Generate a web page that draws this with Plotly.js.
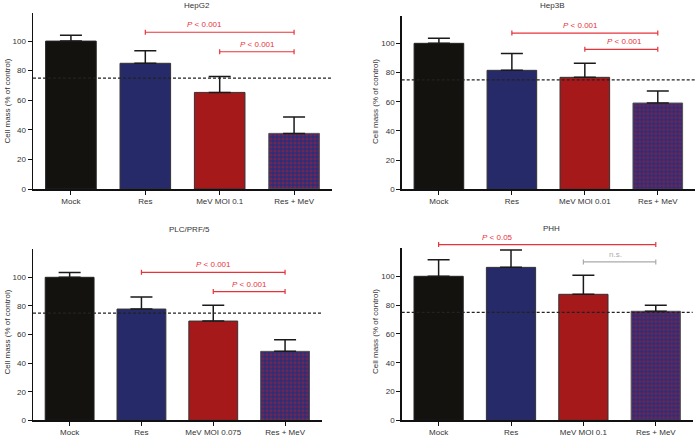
<!DOCTYPE html>
<html><head><meta charset="utf-8">
<script src="https://cdn.plot.ly/plotly-3.0.1.min.js"></script>
<style>html,body{margin:0;padding:0;background:#fff}#chart{width:700px;height:437px}</style>
</head><body><div id="chart"></div>
<script>
// ---------- data ----------
const hepg2Categories = ['Mock', 'Res', 'MeV MOI 0.1', 'Res + MeV'];
const hep3bCategories = ['Mock', 'Res', 'MeV MOI 0.01', 'Res + MeV'];
const plcCategories   = ['Mock', 'Res', 'MeV MOI 0.075', 'Res + MeV'];
const phhCategories   = ['Mock', 'Res', 'MeV MOI 0.1', 'Res + MeV'];
const panelTitles = ['HepG2', 'Hep3B', 'PLC/PRF/5', 'PHH'];

const hepg2Values = [100, 85.0, 65.3, 37.6];
const hepg2Errors = [4.0, 8.5, 10.7, 11.0];
const hep3bValues = [100, 81.5, 76.7, 59.1];
const hep3bErrors = [3.5, 11.6, 9.6, 8.2];
const plcValues   = [100, 77.8, 69.4, 48.2];
const plcErrors   = [3.3, 8.4, 11.0, 8.2];
const phhValues   = [100, 106.2, 87.5, 75.7];
const phhErrors   = [11.5, 12.1, 13.2, 4.2];

const thresholdLine = 75;
const yTickValues = [0, 20, 40, 60, 80, 100];
const yAxisLabel = 'Cell mass (% of control)';

// significance brackets: from category index, to category index, level, label
const hepg2BracketFrom = [1, 2], hepg2BracketTo = [3, 3], hepg2BracketLevel = [106, 92.8];
const hepg2BracketLabel = ['<i>P</i> &lt; 0.001', '<i>P</i> &lt; 0.001'];
const hep3bBracketFrom = [1, 2], hep3bBracketTo = [3, 3], hep3bBracketLevel = [107, 95.9];
const hep3bBracketLabel = ['<i>P</i> &lt; 0.001', '<i>P</i> &lt; 0.001'];
const plcBracketFrom = [1, 2], plcBracketTo = [3, 3], plcBracketLevel = [103.5, 90];
const plcBracketLabel = ['<i>P</i> &lt; 0.001', '<i>P</i> &lt; 0.001'];
const phhBracketFrom = [0, 2], phhBracketTo = [3, 3], phhBracketLevel = [122, 110];
const phhBracketLabel = ['<i>P</i> &lt; 0.05', 'n.s.'];

// ---------- layout / style ----------
const W = 700, H = 437;
const px = v => v / W, py = v => (H - v) / H;
const panels = [
  {cats: hepg2Categories, vals: hepg2Values, errs: hepg2Errors,
   bf: hepg2BracketFrom, bt: hepg2BracketTo, bl: hepg2BracketLevel, blab: hepg2BracketLabel,
   labelX: [1.80, 2.51], bcol: ['#e8323a', '#e8323a'],
   xd: [33, 332], y0: 189, yTop: 13, yMax: 119, titleXY: [197, 6], ylabXY: [6.5, 101]},
  {cats: hep3bCategories, vals: hep3bValues, errs: hep3bErrors,
   bf: hep3bBracketFrom, bt: hep3bBracketTo, bl: hep3bBracketLevel, blab: hep3bBracketLabel,
   labelX: [1.94, 2.54], bcol: ['#e8323a', '#e8323a'],
   xd: [401.7, 695], y0: 189.3, yTop: 15.6, yMax: 119, titleXY: [552, 6], ylabXY: [375, 102]},
  {cats: plcCategories, vals: plcValues, errs: plcErrors,
   bf: plcBracketFrom, bt: plcBracketTo, bl: plcBracketLevel, blab: plcBracketLabel,
   labelX: [2.01, 2.50], bcol: ['#e8323a', '#e8323a'],
   xd: [33, 321.7], y0: 420.3, yTop: 248.7, yMax: 120, titleXY: [190, 229.3], ylabXY: [6.5, 332]},
  {cats: phhCategories, vals: phhValues, errs: phhErrors,
   bf: phhBracketFrom, bt: phhBracketTo, bl: phhBracketLevel, blab: phhBracketLabel,
   labelX: [0.81, 2.44], bcol: ['#e8323a', '#aaaaaa'],
   xd: [401.7, 692.7], y0: 420.3, yTop: 247.5, yMax: 120, titleXY: [551, 228.3], ylabXY: [375, 332]}
];

const solidColors = ['#14120f', '#272a68', '#a5191b'];
const solidLineColors = ['#222222', '#333333', '#333333'];
const comboBlue = '#2a2d78', comboRed = '#b3202e';
const fontFam = 'Liberation Sans, Arial, Helvetica, sans-serif';
const textCol = '#333333';

const traces = [];
const layout = {
  width: W, height: H, margin: {l: 0, r: 0, t: 0, b: 0}, barmode: 'overlay',
  paper_bgcolor: '#ffffff', plot_bgcolor: 'rgba(0,0,0,0)',
  showlegend: false, font: {family: fontFam, size: 8, color: textCol},
  shapes: [], annotations: []
};

panels.forEach((p, i) => {
  const n = i + 1;
  const xa = 'x' + (n === 1 ? '' : n), ya = 'y' + (n === 1 ? '' : n);
  const xk = 'xaxis' + (n === 1 ? '' : n), yk = 'yaxis' + (n === 1 ? '' : n);
  const dom = [py(p.y0), py(p.yTop)];
  // linear y scale of this panel, expressed in paper fraction (same as the axis)
  const levelToPaper = v => dom[0] + (v / p.yMax) * (dom[1] - dom[0]);
  const errBar = e => ({type: 'data', symmetric: false, array: e, arrayminus: e.map(() => 0),
              color: '#1a1a1a', thickness: 1.5, width: 11});
  // solid bars (first three groups)
  traces.push({
    type: 'bar', x: p.cats.slice(0, 3), y: p.vals.slice(0, 3), xaxis: xa, yaxis: ya, width: 0.68,
    marker: {color: solidColors, line: {color: solidLineColors, width: 1}},
    error_y: errBar(p.errs.slice(0, 3)), hoverinfo: 'none'
  });
  // patterned combination bar
  traces.push({
    type: 'bar', x: p.cats.slice(3), y: p.vals.slice(3), xaxis: xa, yaxis: ya, width: 0.68,
    marker: {color: comboBlue, line: {color: '#555555', width: 1},
             pattern: {shape: '.', fgcolor: comboRed, bgcolor: comboBlue, fillmode: 'overlay',
                       size: 4, solidity: 0.5}},
    error_y: errBar(p.errs.slice(3)), hoverinfo: 'none'
  });
  layout[xk] = {
    domain: [px(p.xd[0]), px(p.xd[1])], anchor: ya, type: 'category',
    categoryorder: 'array', categoryarray: p.cats,
    range: [-0.51, 3.51], showline: true, linecolor: '#111', linewidth: 1.5,
    ticks: 'outside', ticklen: 4, tickcolor: '#111', tickwidth: 1,
    tickfont: {size: 8, color: textCol, family: fontFam}, showgrid: false, zeroline: false,
    fixedrange: true
  };
  layout[yk] = {
    domain: dom, anchor: xa, range: [0, p.yMax],
    tickvals: yTickValues, showline: true, linecolor: '#111', linewidth: 1.5,
    ticks: 'outside', ticklen: 4, tickcolor: '#111', tickwidth: 1,
    tickfont: {size: 8, color: textCol, family: fontFam}, showgrid: false, zeroline: false,
    fixedrange: true
  };
  // dashed threshold line
  layout.shapes.push({type: 'line', xref: xa + ' domain', yref: ya, x0: 0, x1: 1,
    y0: thresholdLine, y1: thresholdLine, line: {color: '#222', width: 1.3, dash: '3px,2px'}});
  // brackets
  p.bf.forEach((f, j) => {
    const yl = levelToPaper(p.bl[j]);
    const col = p.bcol[j];
    layout.shapes.push({type: 'line', xref: xa, yref: 'paper', x0: f, x1: p.bt[j], y0: yl, y1: yl,
      line: {color: col, width: 1.2}});
    [f, p.bt[j]].forEach(e => layout.shapes.push({type: 'line', xref: xa, yref: 'paper',
      ysizemode: 'pixel', yanchor: yl, x0: e, x1: e, y0: -2.5, y1: 2.5,
      line: {color: col, width: 1.2}}));
    layout.annotations.push({xref: xa, yref: 'paper', x: p.labelX[j], y: yl,
      text: p.blab[j], showarrow: false, yanchor: 'bottom', xanchor: 'center', yshift: 1,
      font: {size: 8, color: col, family: fontFam}});
  });
  // title
  layout.annotations.push({xref: 'paper', yref: 'paper', x: px(p.titleXY[0]), y: py(p.titleXY[1]),
    text: panelTitles[i], showarrow: false, xanchor: 'center', yanchor: 'middle',
    font: {size: 8, color: textCol, family: fontFam}});
  // y axis label
  layout.annotations.push({xref: 'paper', yref: 'paper', x: px(p.ylabXY[0]), y: py(p.ylabXY[1]),
    text: yAxisLabel, textangle: -90, showarrow: false, xanchor: 'center', yanchor: 'middle',
    font: {size: 8, color: textCol, family: fontFam}});
});

Plotly.newPlot('chart', traces, layout, {staticPlot: true, displayModeBar: false});
</script></body></html>
